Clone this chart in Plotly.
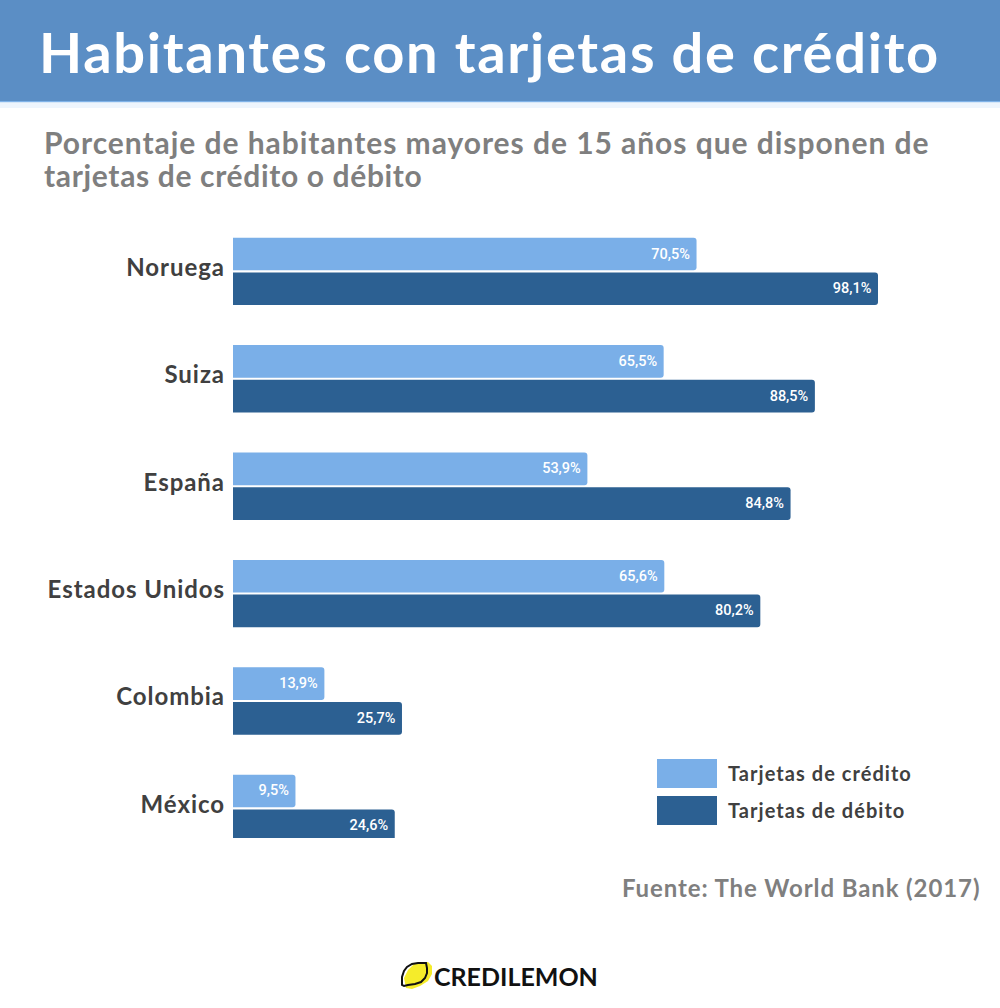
import json
import plotly.graph_objects as go

# values
paises = ['Noruega', 'Suiza', 'España', 'Estados Unidos', 'Colombia', 'México']
credito = [70.5, 65.5, 53.9, 65.6, 13.9, 9.5]
debito = [98.1, 88.5, 84.8, 80.2, 25.7, 24.6]

W, H = 1000, 1008
AZUL_CLARO = '#7aafe8'
AZUL_OSCURO = '#2c6092'
FUENTE = 'Lato'


# page pixels to paper coordinates (margins are 0, so paper = whole figure)
def px(x):
    return x / W


def py(y):
    return 1 - y / H


def rect(x0, y0, x1, y1, color):
    return dict(type='rect', xref='paper', yref='paper', layer='below',
                x0=px(x0), x1=px(x1), y0=py(y0), y1=py(y1),
                fillcolor=color, line_width=0)


def texto(x, y, s, size, color, anchor='left', weight=700):
    return dict(xref='paper', yref='paper', x=px(x), y=py(y), text=s, showarrow=False,
                xanchor=anchor, yanchor='middle', borderpad=0,
                font=dict(family=FUENTE, size=size, color=color, weight=weight))


def trazo(puntos):
    return 'M ' + ' L '.join(f'{px(x):.5f},{py(y):.5f}' for x, y in puntos) + ' Z'


fig = go.Figure()
for nombre, valores, color in [('Tarjetas de crédito', credito, AZUL_CLARO),
                               ('Tarjetas de débito', debito, AZUL_OSCURO)]:
    fig.add_trace(go.Bar(
        y=paises, x=valores, name=nombre, orientation='h',
        marker=dict(color=color, line_width=0),
        texttemplate='%{x:.1f}%\u00a0', textposition='inside', insidetextanchor='end',
        textangle=0, constraintext='none',
        textfont=dict(family='Roboto', size=14.5, color='white', weight=500),
    ))

# lemon logo
limon_relleno = [(406, 988), (404, 978), (408, 970), (414, 964), (428, 962), (432, 966),
                 (432, 974), (428, 981), (420, 986), (412, 989)]
limon_linea = [(402, 985), (402, 977), (404, 971), (407, 967), (412, 964), (418, 963), (426, 963),
               (427, 968), (427, 973), (425, 978), (421, 982), (415, 984), (408, 985), (404, 986)]

shapes = [
    rect(0, 0, W, 101, '#5b8ec5'),
    rect(0, 101, W, 102.5, '#7fb2e8'),
    rect(0, 102.5, W, 108, '#eef5fd'),
    rect(657, 759, 717, 788, AZUL_CLARO),
    rect(657, 796, 717, 825, AZUL_OSCURO),
    dict(type='path', xref='paper', yref='paper', path=trazo(limon_relleno),
         fillcolor='#f5ec2a', line_width=0, layer='below'),
    dict(type='path', xref='paper', yref='paper', path=trazo(limon_linea),
         fillcolor='rgba(0,0,0,0)', line=dict(color='#111111', width=2), layer='below'),
]

annotations = [
    texto(38, 51, 'Habitantes con tarjetas de crédito', 56, 'white'),
    texto(43, 142, 'Porcentaje de habitantes mayores de 15 años que disponen de', 30, '#7f7f7f'),
    texto(43, 175, 'tarjetas de crédito o débito', 30, '#7f7f7f'),
    texto(727, 773, 'Tarjetas de crédito', 20, '#404040'),
    texto(727, 810, 'Tarjetas de débito', 20, '#404040'),
    texto(981, 887, 'Fuente: The World Bank (2017)', 24, '#7f7f7f', anchor='right'),
    texto(433, 976, 'CREDILEMON', 25, '#111111'),
]
# extra letter spacing per annotation, the original font runs wider than Lato
espaciado = [1.72, 0.95, 0.65, 1.05, 1.05, 0.9, 0]

fig.update_layout(
    width=W, height=H,
    margin=dict(l=0, r=0, t=0, b=0),
    paper_bgcolor='white', plot_bgcolor='white',
    showlegend=False,
    barmode='group', bargap=0.353, bargroupgap=0.06, barcornerradius=3,
    separators=',.',
    shapes=shapes, annotations=annotations,
)
fig.update_xaxes(domain=[233 / W, 890.5 / W], range=[0, 100], visible=False, fixedrange=True)
fig.update_yaxes(
    domain=[py(838), py(217.7)], range=[5.276, -0.5], showgrid=False, zeroline=False, showline=False,
    ticks='', tickfont=dict(family=FUENTE, size=24, color='#404040', weight=700),
    ticklabelstandoff=7, ticklabelshift=4, fixedrange=True,
)

post = """
document.body.style.margin = '0';
var espaciado = %s;
document.querySelectorAll('.annotation-text').forEach(function (t, i) {
    var antes = t.getBoundingClientRect();
    t.style.letterSpacing = espaciado[i] + 'px';
    var despues = t.getBoundingClientRect();
    var d = i === 5 ? antes.right - despues.right : antes.left - despues.left;
    t.setAttribute('x', parseFloat(t.getAttribute('x')) + d);
});
document.querySelectorAll('.ytick text').forEach(function (t) {
    t.style.letterSpacing = '0.95px';
});
""" % json.dumps(espaciado)

fig.write_html("out.html", post_script=post, config=dict(displayModeBar=False))
